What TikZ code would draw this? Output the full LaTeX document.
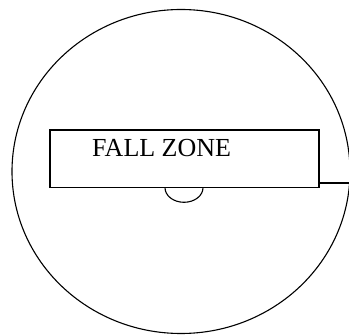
\documentclass[tikz,border=0pt]{standalone}
\usepackage{fontspec}
\setmainfont{Liberation Serif}
\usetikzlibrary{shapes.geometric,calc}
\tikzset{
  fz/zone/.style={
    ellipse,
    draw=black,
    line width=1.1pt,
    inner sep=0pt,
    minimum width=338pt,
    minimum height=324pt
  },
  fz/box/.style={
    rectangle,
    draw=black,
    line width=1.4pt,
    fill=white,
    inner sep=0pt,
    minimum width=269pt,
    minimum height=57.7pt
  },
  fz/text/.style={font=\fontsize{26}{30}\selectfont, inner sep=0pt, anchor=base west},
  fz/line/.style={draw=black, line width=1.1pt}
}
\begin{document}
\begin{tikzpicture}[x=1pt,y=1pt]
  \useasboundingbox (0,0) rectangle (349,335);
  \node[fz/zone] (fall) at (181,163.5) {};
  % half circle below the box
  \draw[fz/line] (165,147.3) arc[start angle=180,end angle=360,x radius=19,y radius=14.6];
  \node[fz/box] (zone) at (184.5,176.15) {};
  \node[fz/text] (zonetext) at (92,178) {FALL ZONE};
  \coordinate (tap) at ($(zone.south east)+(0,5.4)$);
  \draw[fz/line] (tap) -- (tap -| fall.east);
\end{tikzpicture}
\end{document}
